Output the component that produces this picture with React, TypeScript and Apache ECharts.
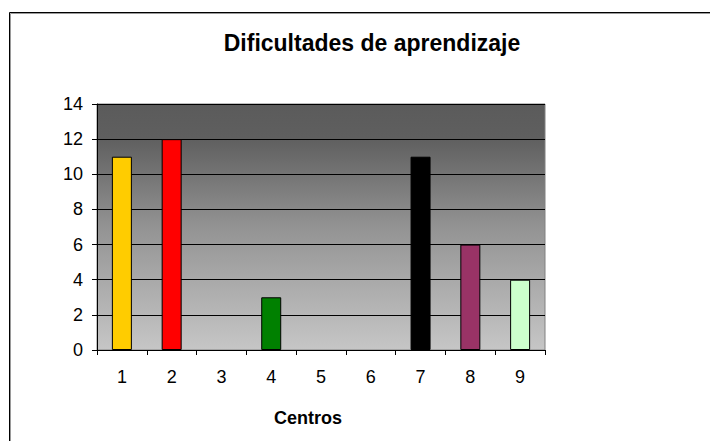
import React, { useEffect, useRef } from "react";
import * as echarts from "echarts";

const categories = ["1", "2", "3", "4", "5", "6", "7", "8", "9"];
const values = [11, 12, 0, 3, 0, 0, 11, 6, 4];
const barColors = ["#FFCC00", "#FF0000", "#3366FF", "#008000", "#FF00FF", "#00FFFF", "#000000", "#993366", "#CCFFCC"];
const titleText = "Dificultades de aprendizaje";
const xAxisName = "Centros";

const FONT = "Arial, 'Liberation Sans', sans-serif";

export default function App() {
  const ref = useRef<HTMLDivElement>(null);
  useEffect(() => {
    if (!ref.current) return;
    const chart = echarts.init(ref.current, undefined, { renderer: "svg" });
    chart.setOption({
      animation: false,
      backgroundColor: "#ffffff",
      title: {
        text: titleText,
        left: 367,
        top: 26,
        textAlign: "center",
        textStyle: { fontFamily: FONT, fontSize: 23, fontWeight: "bold", color: "#000" },
      },
      graphic: [
        { type: "rect", shape: { x: 10.5, y: 13.5, width: 760, height: 500 }, style: { fill: "none", stroke: "#9a9a9a", lineWidth: 1 }, silent: true },
        { type: "rect", shape: { x: 9.5, y: 12.5, width: 760, height: 500 }, style: { fill: "none", stroke: "#000", lineWidth: 1 }, silent: true },
      ],
      grid: {
        left: 97,
        top: 104,
        right: 165,
        bottom: 91,
        show: true,
        borderColor: "#808080",
        borderWidth: 1,
        backgroundColor: new echarts.graphic.LinearGradient(0, 0, 0, 1, [
          { offset: 0, color: "#5b5b5b" },
          { offset: 0.14, color: "#5f5f5f" },
          { offset: 0.5, color: "#939393" },
          { offset: 1, color: "#c6c6c6" },
        ]),
      },
      xAxis: {
        type: "category",
        data: categories,
        boundaryGap: true,
        name: xAxisName,
        nameLocation: "middle",
        nameGap: 59,
        nameTextStyle: { fontFamily: FONT, fontSize: 18, fontWeight: "bold", color: "#000", padding: [0, 26, 0, 0] },
        axisLine: { show: true, lineStyle: { color: "#000", width: 1 } },
        axisTick: { show: true, alignWithLabel: false, length: 5, lineStyle: { color: "#000" } },
        axisLabel: { fontFamily: FONT, fontSize: 18, color: "#000", margin: 18 },
        splitLine: { show: false },
      },
      yAxis: {
        type: "value",
        min: 0,
        max: 14,
        interval: 2,
        axisLine: { show: true, lineStyle: { color: "#000", width: 1 } },
        axisTick: { show: true, length: 5, lineStyle: { color: "#000" } },
        axisLabel: { fontFamily: FONT, fontSize: 18, color: "#000", margin: 14 },
        splitLine: { show: true, lineStyle: { color: "#000", width: 1 } },
      },
      series: [
        {
          type: "bar",
          barWidth: 20,
          data: values.map((v, i) => ({
            value: v,
            itemStyle: { color: barColors[i], borderColor: "#000", borderWidth: v > 0 ? 1 : 0 },
          })),
        },
      ],
    });
    return () => chart.dispose();
  }, []);
  return (
    <div
      ref={ref}
      style={{ position: "fixed", left: 0, top: 0, width: 710, height: 441 }}
    />
  );
}
